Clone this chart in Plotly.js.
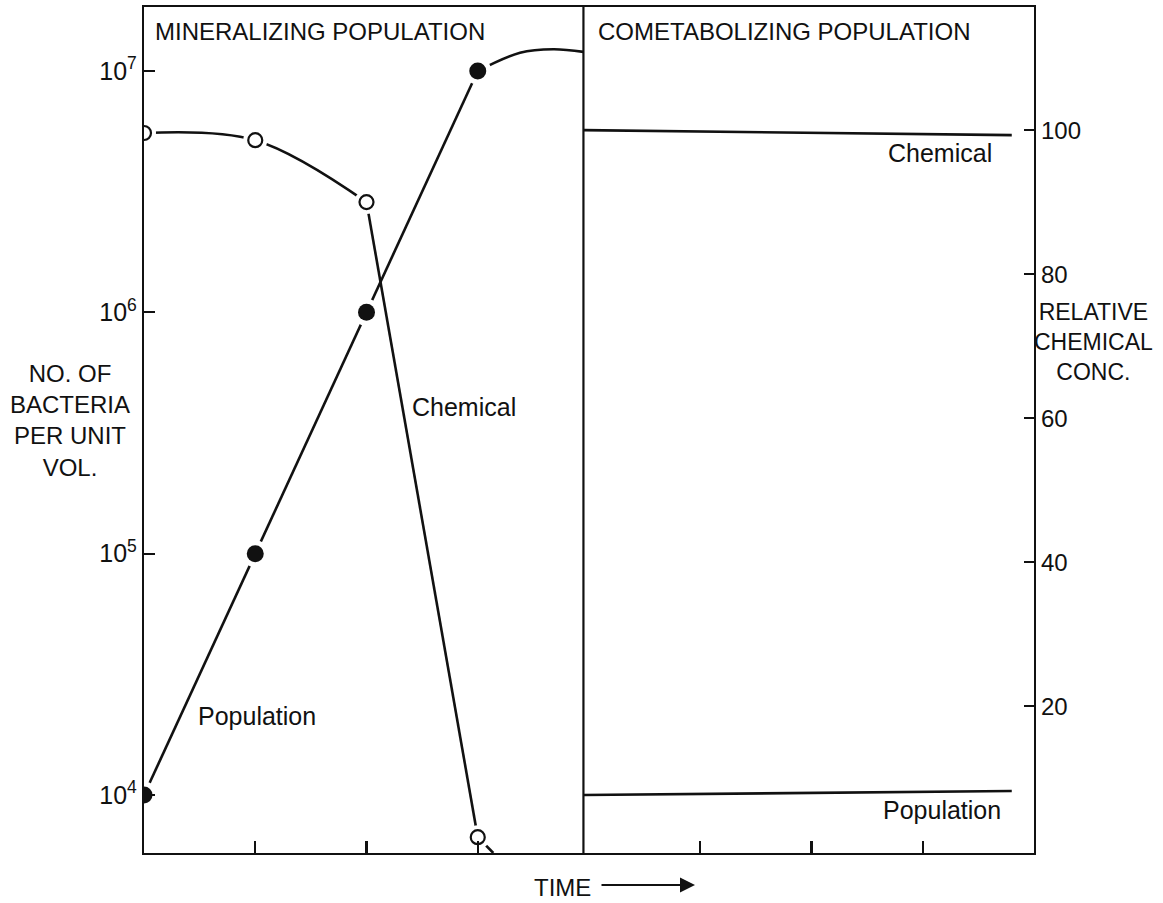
<!DOCTYPE html>
<html>
<head>
<meta charset="utf-8">
<script src="https://cdn.plot.ly/plotly-3.0.1.min.js"></script>
<style>html,body{margin:0;padding:0;background:#fff;}#chart{width:1163px;height:903px;}</style>
</head>
<body>
<div id="chart"></div>
<script>
// ---- data ----
const timePts      = [0, 1, 2, 3];                 // sampling times (mineralizing panel)
const popMineral   = [1e4, 1e5, 1e6, 1e7];          // bacteria per unit vol.
const popPlateauX  = [3, 3.38, 3.68, 3.95];
const popPlateau   = [1e7, 1.19e7, 1.23e7, 1.2e7];
const chemMineral  = [99.6, 98.6, 90.0, 1.8];       // relative chemical conc.
const chemTailX    = [3, 3.14];
const chemTail     = [1.8, -0.4];
const coX          = [3.95, 7.8];                   // cometabolizing panel
const chemCo       = [100, 99.3];
const popCo        = [1.0e4, 1.04e4];
const leftTickVals = [1e4, 1e5, 1e6, 1e7];
const leftTickText = ['10<sup>4</sup>', '10<sup>5</sup>', '10<sup>6</sup>', '10<sup>7</sup>'];
const rightTickVals = [20, 40, 60, 80, 100];
const timeTicks    = [1, 2, 3, 5, 6, 7];
const panelSplit   = 3.95;

const FONT = 'Liberation Sans, Arial, sans-serif';
const K = '#111';
const LW = 2.6;

const traces = [
  // chemical, mineralizing panel (smooth part then steep fall)
  {x: timePts.slice(0, 3), y: chemMineral.slice(0, 3), yaxis: 'y2', mode: 'lines',
   line: {color: K, width: LW, shape: 'spline', smoothing: 1}},
  {x: timePts.slice(2, 4), y: chemMineral.slice(2, 4), yaxis: 'y2', mode: 'lines',
   line: {color: K, width: LW}},
  {x: chemTailX, y: chemTail, yaxis: 'y2', mode: 'lines', line: {color: K, width: LW}},
  // population, mineralizing panel
  {x: timePts, y: popMineral, yaxis: 'y', mode: 'lines', line: {color: K, width: LW}},
  {x: popPlateauX, y: popPlateau, yaxis: 'y', mode: 'lines',
   line: {color: K, width: LW, shape: 'spline', smoothing: 1}},
  // cometabolizing panel
  {x: coX, y: chemCo, yaxis: 'y2', mode: 'lines', line: {color: K, width: LW}},
  {x: coX, y: popCo, yaxis: 'y', mode: 'lines', line: {color: K, width: LW}},
  // white halos giving the gap between lines and symbols
  {x: timePts, y: chemMineral, yaxis: 'y2', mode: 'markers',
   marker: {size: 24, color: '#fff', line: {width: 0}}},
  {x: timePts, y: popMineral, yaxis: 'y', mode: 'markers',
   marker: {size: 27, color: '#fff', line: {width: 0}}},
  // symbols
  {x: timePts, y: chemMineral, yaxis: 'y2', mode: 'markers',
   marker: {size: 14, color: '#fff', line: {color: K, width: 2.2}}},
  {x: timePts, y: popMineral, yaxis: 'y', mode: 'markers',
   marker: {size: 17, color: K, line: {width: 0}}}
];

const L = 144, R = 129, T = 7, B = 50, W = 1163, H = 903;
const pw = W - L - R, ph = H - T - B;
const px = v => (v - L) / pw;
const py = v => (H - B - v) / ph;
const txt = (text, x, y, xa, size, extra) => Object.assign({
  text: text, xref: 'paper', yref: 'paper', x: px(x), y: py(y),
  xanchor: xa, yanchor: 'middle', showarrow: false,
  font: {family: FONT, size: size || 24, color: K}
}, extra || {});

const layout = {
  width: W, height: H,
  margin: {l: L, r: R, t: T, b: B, pad: 0},
  paper_bgcolor: '#fff', plot_bgcolor: '#fff',
  showlegend: false,
  font: {family: FONT, color: K},
  xaxis: {range: [0, 8], showline: true, linecolor: K, linewidth: 2.2, mirror: true,
          ticks: 'inside', tickvals: timeTicks, ticklen: 12, tickwidth: 2.2, tickcolor: K,
          showticklabels: false, showgrid: false, zeroline: false, fixedrange: true},
  yaxis: {type: 'log', range: [3.76, 7.265], showline: true, linecolor: K, linewidth: 2.2,
          ticks: 'inside', ticklen: 11, tickwidth: 2.2, tickcolor: K,
          tickvals: leftTickVals, ticktext: leftTickText,
          tickfont: {family: FONT, size: 25, color: K},
          showgrid: false, zeroline: false},
  yaxis2: {overlaying: 'y', side: 'right', range: [-0.4, 117.1], showline: true,
           linecolor: K, linewidth: 2.2, ticks: 'inside', ticklen: 10, tickwidth: 2.2, tickcolor: K,
           tickvals: rightTickVals, tickfont: {family: FONT, size: 24, color: K},
           showgrid: false, zeroline: false},
  shapes: [
    {type: 'line', xref: 'x', yref: 'paper', x0: panelSplit, x1: panelSplit, y0: 0, y1: 1,
     line: {color: K, width: 2.2}}
  ],
  annotations: [
    txt('MINERALIZING POPULATION', 153, 31, 'left', 24),
    txt('COMETABOLIZING POPULATION', 596, 31, 'left', 24),
    txt('Chemical', 994, 153, 'right', 25),
    txt('Population', 1003, 810, 'right', 25),
    txt('Chemical', 410, 407, 'left', 25),
    txt('Population', 196, 716, 'left', 25),
    txt('NO. OF<br>BACTERIA<br>PER UNIT<br>VOL.', 70, 420, 'center', 24, {align: 'center'}),
    txt('RELATIVE<br>CHEMICAL<br>CONC.', 1093, 342, 'center', 23, {align: 'center'}),
    txt('TIME', 532, 887, 'left', 24),
    {text: '', xref: 'paper', yref: 'paper', x: px(695), y: py(885), ax: -95, ay: 0,
     showarrow: true, arrowhead: 2, arrowsize: 1.5, arrowwidth: 2, arrowcolor: K}
  ]
};

Plotly.newPlot('chart', traces, layout, {displayModeBar: false, staticPlot: true});
</script>
</body>
</html>
